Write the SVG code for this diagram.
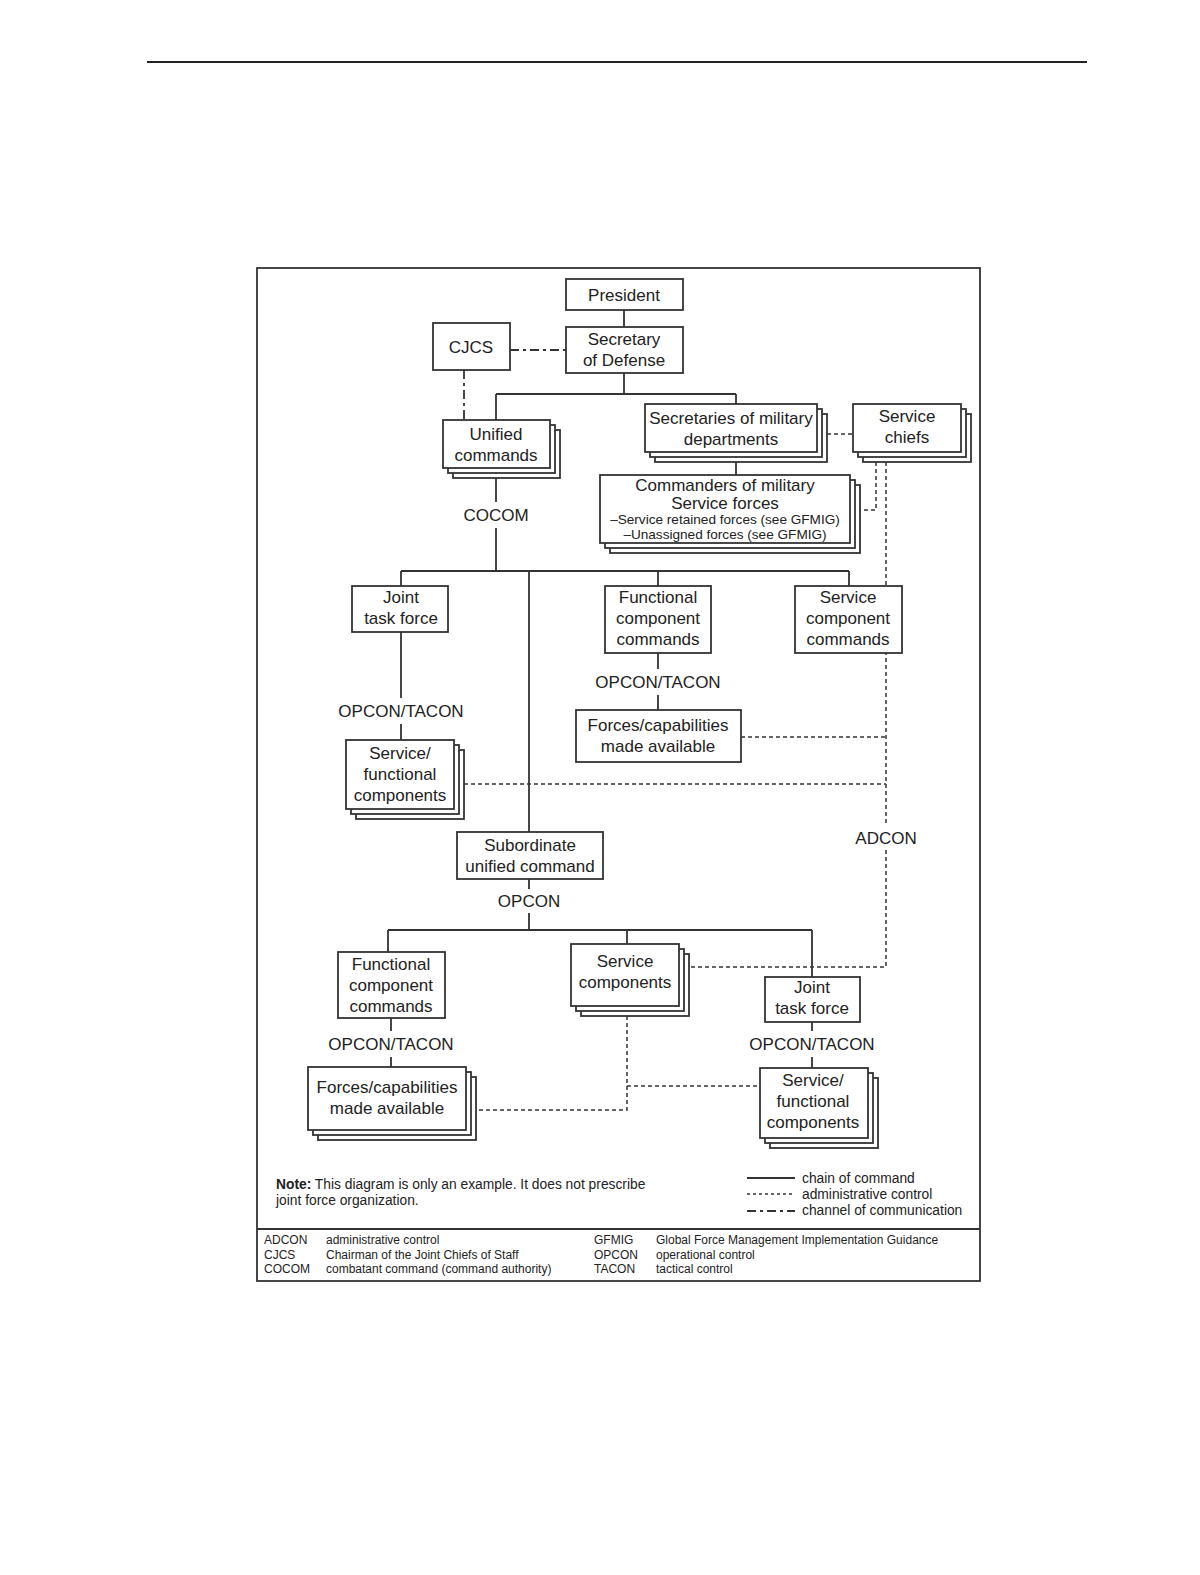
<svg xmlns="http://www.w3.org/2000/svg" width="1200" height="1575" viewBox="0 0 1200 1575">
<style>
.box{fill:#fff;stroke:#333;stroke-width:1.8}
.t{font-family:"Liberation Sans",Arial,sans-serif;font-size:17px;fill:#222;text-anchor:middle}
.s{font-family:"Liberation Sans",Arial,sans-serif;font-size:13.6px;fill:#222;text-anchor:middle}
.n{font-family:"Liberation Sans",Arial,sans-serif;font-size:13.8px;fill:#222}
.a{font-family:"Liberation Sans",Arial,sans-serif;font-size:12px;fill:#222}
.solid{fill:none;stroke:#333;stroke-width:1.8}
.dot{fill:none;stroke:#333;stroke-width:1.5;stroke-dasharray:4 3}
.dd{fill:none;stroke:#333;stroke-width:1.8;stroke-dasharray:9 4 3 4}
</style>
<rect width="1200" height="1575" fill="#fff"/>
<line x1="147" y1="62" x2="1087" y2="62" stroke="#222" stroke-width="2"/>
<rect x="257" y="268" width="723" height="1013" fill="none" stroke="#333" stroke-width="1.8"/>
<line x1="257" y1="1229" x2="980" y2="1229" stroke="#333" stroke-width="1.8"/>

<g id="connectors">
<path class="solid" d="M624 310V327M624 373V394M496 394H736M496 394V420M736 394V404M736 462V475M496 478V502M496 528V571M401 571H849M401 571V586M529 571V832M658 571V586M849 571V586M401 632V698M401 724V740M658 653V669M658 695V710M529 879V889M529 913V930M388 930H812M388 930V952M627 930V944M812 930V977M391 1018V1031M391 1057V1067M812 1022V1031M812 1057V1068"/>
<path class="dd" d="M510 350H566M464 370V420"/>
<path class="dot" d="M827 434H853M876 462V510H860M886 462V826M886 850V967H689M741 737H886M464 784H886M627 1016V1110H478M627 1086H760"/>
</g>
<g id="labels">
<text class="t" x="496" y="521">COCOM</text>
<text class="t" x="401" y="717">OPCON/TACON</text>
<text class="t" x="658" y="688">OPCON/TACON</text>
<text class="t" x="886" y="844">ADCON</text>
<text class="t" x="529" y="907">OPCON</text>
<text class="t" x="391" y="1050">OPCON/TACON</text>
<text class="t" x="812" y="1050">OPCON/TACON</text>
</g>

<g id="president"><rect class="box" x="566" y="279" width="117" height="31"/><text class="t" x="624" y="301">President</text></g>
<g id="secdef"><rect class="box" x="566" y="327" width="117" height="46"/><text class="t" x="624" y="345">Secretary</text><text class="t" x="624" y="366">of Defense</text></g>
<g id="cjcs"><rect class="box" x="433" y="323" width="77" height="47"/><text class="t" x="471" y="353">CJCS</text></g>
<g id="unified"><rect class="box" x="453" y="430" width="107" height="48"/><rect class="box" x="448" y="425" width="107" height="48"/><rect class="box" x="443" y="420" width="107" height="48"/><text class="t" x="496" y="440">Unified</text><text class="t" x="496" y="461">commands</text></g>
<g id="secmil"><rect class="box" x="655" y="414" width="172" height="48"/><rect class="box" x="650" y="409" width="172" height="48"/><rect class="box" x="645" y="404" width="172" height="48"/><text class="t" x="731" y="424">Secretaries of military</text><text class="t" x="731" y="445">departments</text></g>
<g id="servicechiefs"><rect class="box" x="863" y="414" width="108" height="48"/><rect class="box" x="858" y="409" width="108" height="48"/><rect class="box" x="853" y="404" width="108" height="48"/><text class="t" x="907" y="422">Service</text><text class="t" x="907" y="443">chiefs</text></g>
<g id="commanders"><rect class="box" x="610" y="485" width="250" height="68"/><rect class="box" x="605" y="480" width="250" height="68"/><rect class="box" x="600" y="475" width="250" height="68"/><text class="t" x="725" y="491">Commanders of military</text><text class="t" x="725" y="509">Service forces</text><text class="s" x="725" y="524">–Service retained forces (see GFMIG)</text><text class="s" x="725" y="539">–Unassigned forces (see GFMIG)</text></g>
<g id="jtf1"><rect class="box" x="352" y="586" width="96" height="46"/><text class="t" x="401" y="603">Joint</text><text class="t" x="401" y="624">task force</text></g>
<g id="fcc1"><rect class="box" x="605" y="586" width="106" height="67"/><text class="t" x="658" y="603">Functional</text><text class="t" x="658" y="624">component</text><text class="t" x="658" y="645">commands</text></g>
<g id="scc"><rect class="box" x="795" y="586" width="107" height="67"/><text class="t" x="848" y="603">Service</text><text class="t" x="848" y="624">component</text><text class="t" x="848" y="645">commands</text></g>
<g id="forces1"><rect class="box" x="576" y="710" width="165" height="52"/><text class="t" x="658" y="731">Forces/capabilities</text><text class="t" x="658" y="752">made available</text></g>
<g id="sfc1"><rect class="box" x="356" y="750" width="108" height="69"/><rect class="box" x="351" y="745" width="108" height="69"/><rect class="box" x="346" y="740" width="108" height="69"/><text class="t" x="400" y="759">Service/</text><text class="t" x="400" y="780">functional</text><text class="t" x="400" y="801">components</text></g>
<g id="subunified"><rect class="box" x="457" y="832" width="146" height="47"/><text class="t" x="530" y="851">Subordinate</text><text class="t" x="530" y="872">unified command</text></g>
<g id="fcc2"><rect class="box" x="338" y="952" width="107" height="66"/><text class="t" x="391" y="970">Functional</text><text class="t" x="391" y="991">component</text><text class="t" x="391" y="1012">commands</text></g>
<g id="servcomp"><rect class="box" x="581" y="954" width="108" height="62"/><rect class="box" x="576" y="949" width="108" height="62"/><rect class="box" x="571" y="944" width="108" height="62"/><text class="t" x="625" y="967">Service</text><text class="t" x="625" y="988">components</text></g>
<g id="jtf2"><rect class="box" x="765" y="977" width="95" height="45"/><text class="t" x="812" y="993">Joint</text><text class="t" x="812" y="1014">task force</text></g>
<g id="forces2"><rect class="box" x="318" y="1077" width="158" height="63"/><rect class="box" x="313" y="1072" width="158" height="63"/><rect class="box" x="308" y="1067" width="158" height="63"/><text class="t" x="387" y="1093">Forces/capabilities</text><text class="t" x="387" y="1114">made available</text></g>
<g id="sfc2"><rect class="box" x="770" y="1078" width="108" height="70"/><rect class="box" x="765" y="1073" width="108" height="70"/><rect class="box" x="760" y="1068" width="108" height="70"/><text class="t" x="813" y="1086">Service/</text><text class="t" x="813" y="1107">functional</text><text class="t" x="813" y="1128">components</text></g>

<g id="note"><text class="n" x="276" y="1189"><tspan font-weight="bold">Note:</tspan> This diagram is only an example. It does not prescribe</text><text class="n" x="276" y="1205">joint force organization.</text></g>
<g id="legend">
<line x1="747" y1="1178" x2="795" y2="1178" stroke="#333" stroke-width="1.8"/>
<line x1="747" y1="1194" x2="795" y2="1194" stroke="#333" stroke-width="1.3" stroke-dasharray="3 3"/>
<line x1="747" y1="1211" x2="795" y2="1211" stroke="#333" stroke-width="1.8" stroke-dasharray="9 4 3 4"/>
<text class="n" x="802" y="1183">chain of command</text>
<text class="n" x="802" y="1199">administrative control</text>
<text class="n" x="802" y="1215">channel of communication</text>
</g>
<g id="abbrev">
<text class="a" x="264" y="1244">ADCON</text><text class="a" x="326" y="1244">administrative control</text>
<text class="a" x="264" y="1259">CJCS</text><text class="a" x="326" y="1259">Chairman of the Joint Chiefs of Staff</text>
<text class="a" x="264" y="1273">COCOM</text><text class="a" x="326" y="1273">combatant command (command authority)</text>
<text class="a" x="594" y="1244">GFMIG</text><text class="a" x="656" y="1244">Global Force Management Implementation Guidance</text>
<text class="a" x="594" y="1259">OPCON</text><text class="a" x="656" y="1259">operational control</text>
<text class="a" x="594" y="1273">TACON</text><text class="a" x="656" y="1273">tactical control</text>
</g>
</svg>
